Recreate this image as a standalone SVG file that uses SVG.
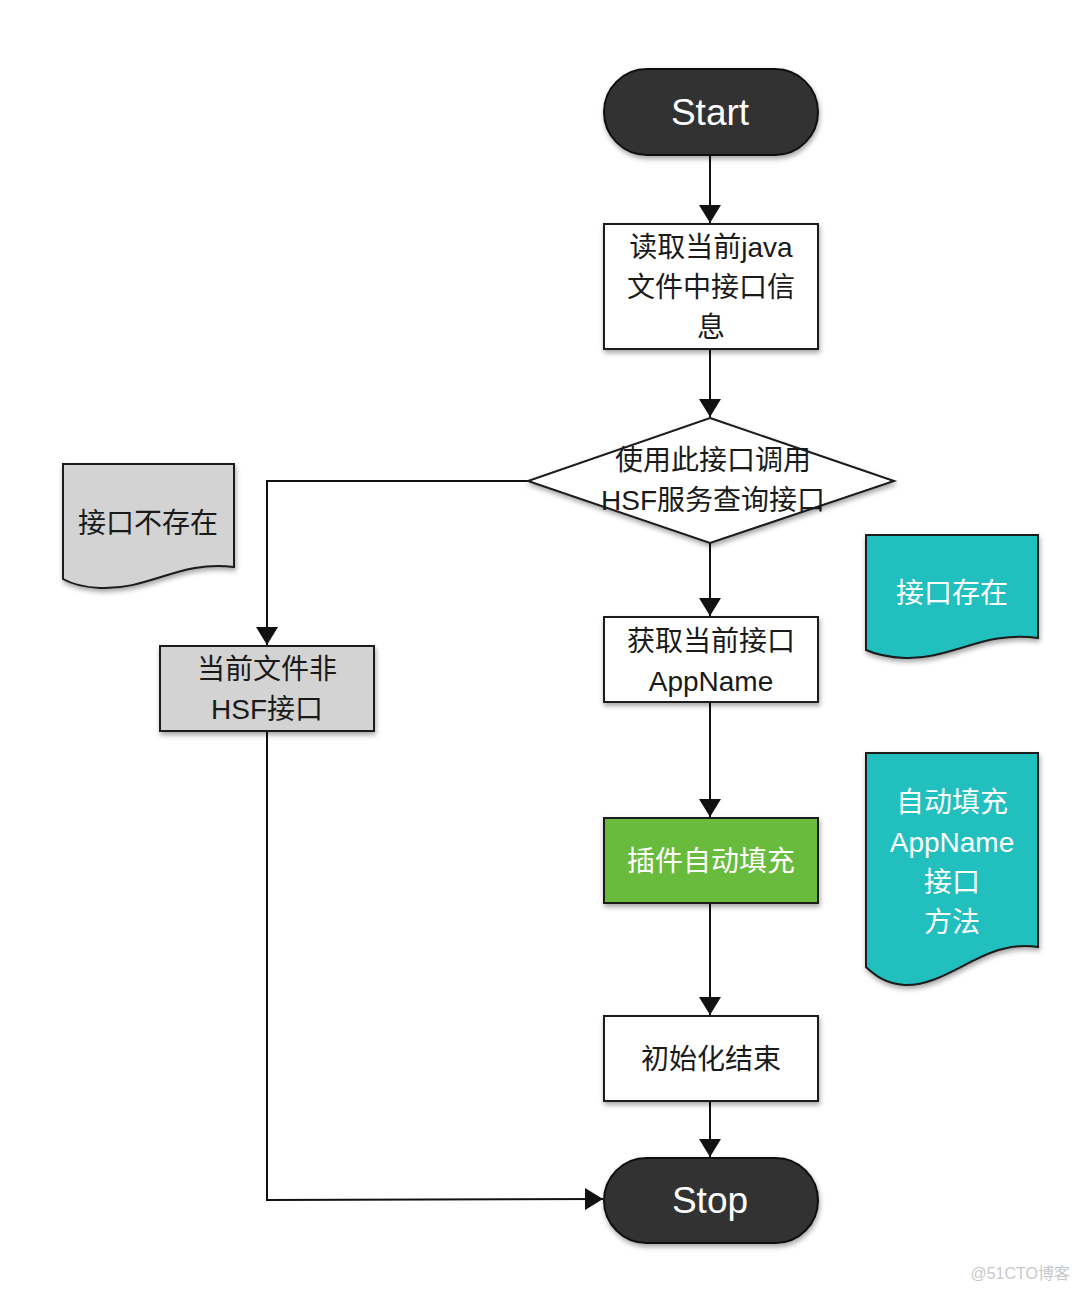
<svg xmlns="http://www.w3.org/2000/svg" width="1080" height="1292" viewBox="0 0 1080 1292">
<defs>
<style>
.t{font-family:"Liberation Sans","Noto Sans CJK SC",sans-serif;font-size:28px;text-anchor:middle;fill:#1a1a1a}
.w{fill:#ffffff}
.big{font-size:37px}
.box{fill:#ffffff;stroke:#1a1a1a;stroke-width:2}
.pill{fill:#333333;stroke:#111111;stroke-width:2}
.edge{fill:none;stroke:#111111;stroke-width:2}
</style>
<filter id="sh" x="-10%" y="-10%" width="125%" height="130%">
<feDropShadow dx="1" dy="3" stdDeviation="2.5" flood-color="#000000" flood-opacity="0.35"/>
</filter>
<marker id="ah" markerWidth="18" markerHeight="22" refX="18" refY="11" orient="auto" markerUnits="userSpaceOnUse">
<path d="M0,0 L18,11 L0,22 Z" fill="#111111"/>
</marker>
</defs>
<rect width="1080" height="1292" fill="#ffffff"/>

<g id="connectors">
<line class="edge" x1="710" y1="155" x2="710" y2="223" marker-end="url(#ah)"/>
<line class="edge" x1="710" y1="349" x2="710" y2="417" marker-end="url(#ah)"/>
<polyline class="edge" points="528,481 267,481 267,645" marker-end="url(#ah)"/>
<line class="edge" x1="710" y1="543" x2="710" y2="616" marker-end="url(#ah)"/>
<line class="edge" x1="710" y1="702" x2="710" y2="817" marker-end="url(#ah)"/>
<line class="edge" x1="710" y1="903" x2="710" y2="1015" marker-end="url(#ah)"/>
<line class="edge" x1="710" y1="1101" x2="710" y2="1157" marker-end="url(#ah)"/>
<polyline class="edge" points="267,731 267,1200 603,1199" marker-end="url(#ah)"/>
</g>

<g id="start">
<rect class="pill" x="604" y="69" width="214" height="86" rx="43" filter="url(#sh)"/>
<text class="t w big" x="710" y="125">Start</text>
</g>

<g id="read">
<rect class="box" x="604" y="224" width="214" height="125" filter="url(#sh)"/>
<text class="t" x="711" y="257">读取当前java</text>
<text class="t" x="711" y="297">文件中接口信</text>
<text class="t" x="711" y="337">息</text>
</g>

<g id="decision">
<polygon class="box" points="710,418 894,481 710,543 528,481" filter="url(#sh)"/>
<text class="t" x="713" y="470">使用此接口调用</text>
<text class="t" x="713" y="510">HSF服务查询接口</text>
</g>

<g id="not-hsf">
<rect class="box" x="160" y="646" width="214" height="85" style="fill:#d3d3d3" filter="url(#sh)"/>
<text class="t" x="267" y="679">当前文件非</text>
<text class="t" x="267" y="719">HSF接口</text>
</g>

<g id="note-not-exist">
<path d="M63,464 H234 V567 C180,560 150,590 100,588 C80,587 70,583 63,579 Z" fill="#d3d3d3" stroke="#1a1a1a" stroke-width="2" filter="url(#sh)"/>
<text class="t" x="148" y="533">接口不存在</text>
</g>

<g id="get-appname">
<rect class="box" x="604" y="617" width="214" height="85" filter="url(#sh)"/>
<text class="t" x="711" y="651">获取当前接口</text>
<text class="t" x="711" y="691">AppName</text>
</g>

<g id="note-exist">
<path d="M866,535 H1038 V638 C985,630 950,660 905,658 C885,657 875,654 866,650 Z" fill="#20bfbf" stroke="#1a1a1a" stroke-width="2" filter="url(#sh)"/>
<text class="t w" x="952" y="603">接口存在</text>
</g>

<g id="autofill">
<rect class="box" x="604" y="818" width="214" height="85" style="fill:#67bb3c" filter="url(#sh)"/>
<text class="t w" x="711" y="871">插件自动填充</text>
</g>

<g id="note-autofill">
<path d="M866,753 H1038 V947 C985,938 950,986 905,985 C885,984 875,975 866,967 Z" fill="#20bfbf" stroke="#1a1a1a" stroke-width="2" filter="url(#sh)"/>
<text class="t w" x="952" y="812">自动填充</text>
<text class="t w" x="952" y="852">AppName</text>
<text class="t w" x="952" y="892">接口</text>
<text class="t w" x="952" y="932">方法</text>
</g>

<g id="init-end">
<rect class="box" x="604" y="1016" width="214" height="85" filter="url(#sh)"/>
<text class="t" x="711" y="1069">初始化结束</text>
</g>

<g id="stop">
<rect class="pill" x="604" y="1158" width="214" height="85" rx="42.5" filter="url(#sh)"/>
<text class="t w big" x="710" y="1213">Stop</text>
</g>

<text x="1070" y="1279" style="font-family:'Liberation Sans','Noto Sans CJK SC',sans-serif;font-size:16px;fill:#c8c8c8;text-anchor:end">@51CTO博客</text>
</svg>
